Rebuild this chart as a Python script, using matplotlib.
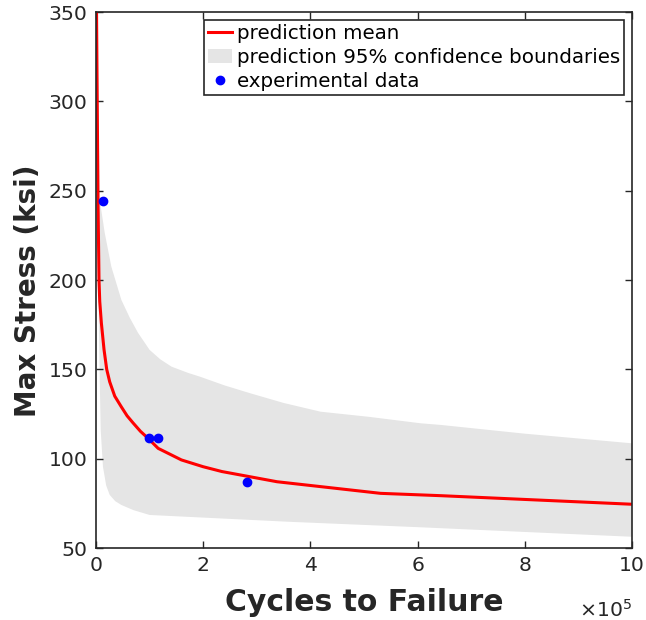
# Stress-life prediction with 95% confidence band vs. experimental points

import numpy as np
import matplotlib.pyplot as plt
from matplotlib.ticker import FuncFormatter

# mean prediction curve (cycles, ksi)
mean_cycles = np.array([0.01, 0.037, 0.056, 0.07, 0.1, 0.15, 0.2, 0.256, 0.35, 0.473,
                        0.58, 0.692, 0.83, 0.972, 1.159, 1.594, 2.0, 2.35, 3.377, 5.31,
                        6.43, 10.0]) * 1e5
mean_stress = np.array([350, 245, 200, 188, 176, 161, 150, 143, 135, 129,
                        124, 120, 115.3, 111.4, 105.8, 99.3, 95.5, 92.8, 87.1, 80.6,
                        79.3, 74.5])

# upper 95% boundary
upper_cycles = np.array([0.015, 0.07, 0.163, 0.286, 0.473, 0.63, 0.785, 1.0, 1.2, 1.41,
                         1.72, 1.94, 2.4, 2.88, 3.5, 4.19, 5.1, 6.06, 6.43, 8.0,
                         10.0]) * 1e5
upper_stress = np.array([360, 244.8, 226.4, 207.5, 188.9, 178.9, 170.4, 160.9, 155.6,
                         151.5, 148, 145.9, 141, 136.6, 131.2, 126.3, 123.4, 119.8,
                         118.9, 114, 108.6])

# lower 95% boundary
lower_cycles = np.array([0.005, 0.04, 0.07, 0.088, 0.13, 0.19, 0.256, 0.36, 0.473,
                         0.7, 1.0, 3.59, 6.06, 10.0]) * 1e5
lower_stress = np.array([360, 200, 144, 116, 95.5, 85, 79.7, 76.2, 74.1, 71.2, 68.5,
                         64.7, 61.6, 56.3])

# experimental data
exp_cycles = np.array([0.125, 0.99, 1.16, 2.81]) * 1e5
exp_stress = np.array([244, 111.3, 111.3, 87.0])

axis_col = '#262626'
plt.rcParams['font.family'] = 'DejaVu Sans'

fig = plt.figure(figsize=(6.46, 6.20), dpi=100)
ax = fig.add_axes([0.1486, 0.1161, 0.8297, 0.8645])

# band polygon: upper edge forward, lower edge backward
band_x = np.concatenate([upper_cycles, lower_cycles[::-1]])
band_y = np.concatenate([upper_stress, lower_stress[::-1]])
ax.fill(band_x, band_y, color='#e5e5e5', lw=0,
        label='prediction 95% confidence boundaries', zorder=1)
ax.plot(mean_cycles, mean_stress, color='#ff0000', lw=2.2,
        label='prediction mean', zorder=2)
ax.plot(exp_cycles, exp_stress, 'o', color='#0000ff', ms=6,
        label='experimental data', zorder=3)

ax.set_xlim(0, 1e6)
ax.set_ylim(50, 350)
ax.set_xticks(np.arange(0, 10.1, 2) * 1e5)
ax.set_yticks(np.arange(50, 351, 50))
ax.xaxis.set_major_formatter(FuncFormatter(lambda v, p: f'{v / 1e5:g}'))
ax.text(1.0, -0.128, r'$\times10^{5}$', transform=ax.transAxes, ha='right',
        va='baseline', fontsize=14.7, color=axis_col)

ax.tick_params(direction='in', top=True, right=True, length=5, width=1,
               labelsize=14.7, colors=axis_col, pad=6)
for sp in ax.spines.values():
    sp.set_color(axis_col)
    sp.set_linewidth(1.2)

ax.set_xlabel('Cycles to Failure', fontsize=21.5, fontweight='bold', color=axis_col,
              labelpad=9)
ax.set_ylabel('Max Stress (ksi)', fontsize=20, fontweight='bold', color=axis_col)
ax.yaxis.set_label_coords(-0.100, 0.48)

handles, labels = ax.get_legend_handles_labels()
order = [1, 0, 2]
leg = ax.legend([handles[i] for i in order], [labels[i] for i in order],
                loc='upper right', bbox_to_anchor=(0.985, 0.985), fontsize=14.3,
                fancybox=False, framealpha=1, edgecolor=axis_col,
                handlelength=1.2, handletextpad=0.25, borderpad=0.2,
                labelspacing=0.25, borderaxespad=0)
leg.get_frame().set_linewidth(1.2)

fig.savefig('out.png', dpi=100)
